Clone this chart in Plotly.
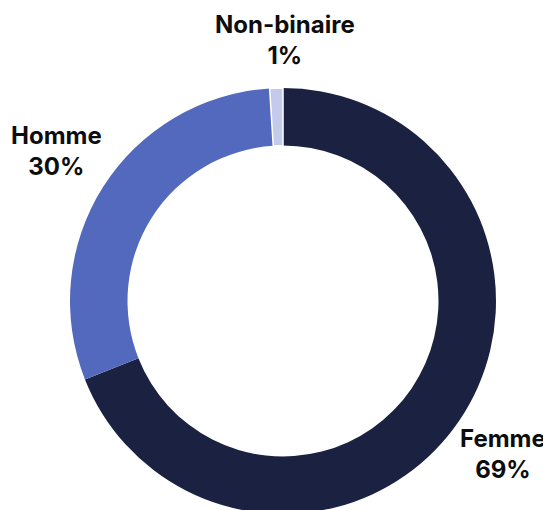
import plotly.graph_objects as go

labels = ['Femme', 'Homme', 'Non-binaire']
values = [69, 30, 1]
pct_text = ['69%', '30%', '1%']
colors = ['#1b2140', '#5369bd', '#c4cae9']

W, H = 551, 510

fig = go.Figure()

# ring: centre ~(275, 293) in figure pixels, outer radius ~213
fig.add_trace(go.Pie(
    labels=labels,
    values=values,
    hole=0.73,
    sort=False,
    direction='clockwise',
    rotation=0,
    marker=dict(colors=colors, line=dict(color='white', width=[0, 0, 1.5])),
    textinfo='none',
    hoverinfo='label+percent',
    showlegend=False,
    domain=dict(x=[62 / W, 488 / W], y=[1 - 506 / H, 1 - 80 / H]),
))

# label centres in figure pixels
label_pos = {
    'Femme': (495, 446),
    'Homme': (48, 143),
    'Non-binaire': (277, 32),
}

for lab, pct in zip(labels, pct_text):
    px, py = label_pos[lab]
    fig.add_annotation(
        x=px / W, y=1 - py / H, xref='paper', yref='paper',
        text=f'{lab}<br>{pct}',
        showarrow=False, xanchor='center', yanchor='middle',
        font=dict(family='Inter', size=24, color='#0d0d0d', weight='bold'),
    )

fig.update_layout(
    width=W, height=H,
    margin=dict(l=0, r=0, t=0, b=0),
    paper_bgcolor='white',
    plot_bgcolor='white',
)

fig.write_html('out.html')
